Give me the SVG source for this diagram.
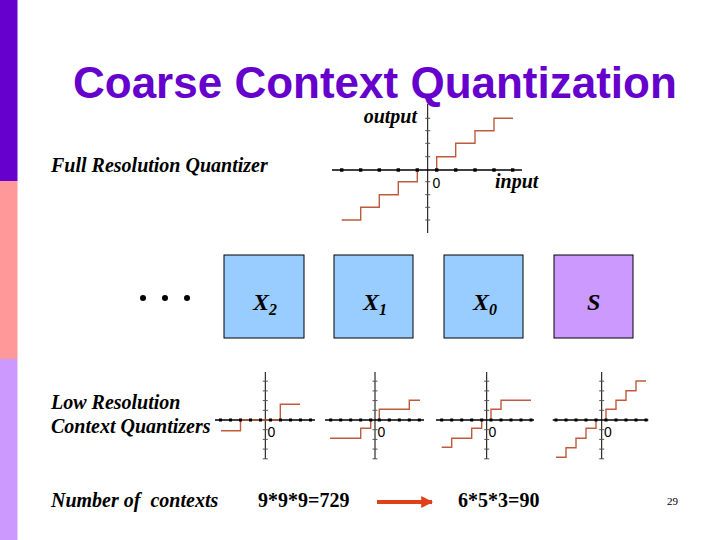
<svg xmlns="http://www.w3.org/2000/svg" width="720" height="540" viewBox="0 0 720 540">
<defs>
<style>
.title{font-family:"Liberation Sans",Arial,sans-serif;font-weight:bold;font-size:44px;fill:#6600cc}
.lbl{font-family:"Liberation Serif","Times New Roman",serif;font-weight:bold;font-style:italic;font-size:20px;fill:#000}
.num{font-family:"Liberation Serif","Times New Roman",serif;font-weight:bold;font-size:20px;fill:#000}
.var{font-family:"Liberation Serif","Times New Roman",serif;font-weight:bold;font-style:italic;font-size:24px;fill:#000}
.zero{font-family:"Liberation Sans",Arial,sans-serif;font-size:14px;fill:#000}
.vaxis{stroke:#000;stroke-width:1;fill:none}
.haxis{stroke:#000;stroke-width:1.6;fill:none}
.tick{stroke:#555;stroke-width:1;fill:none}
.stair{stroke:#bf5b3c;stroke-width:1.4;fill:none}
.dot{fill:#000}
.box{stroke:#000;stroke-width:1}
</style>
<marker id="ah" viewBox="0 0 10 10" refX="9" refY="5" markerWidth="3" markerHeight="3" orient="auto">
<path d="M0,0 L10,5 L0,10 z" fill="#e0401a"/>
</marker>
</defs>
<rect width="720" height="540" fill="#fff"/>
<g id="sidebar">
<rect x="0" y="0" width="17.5" height="181" fill="#6600cc"/>
<rect x="0" y="181" width="17.5" height="178" fill="#ff9999"/>
<rect x="0" y="359" width="17.5" height="181" fill="#cc99ff"/>
</g>
<text class="title" x="73" y="98">Coarse Context Quantization</text>

<g id="full-quantizer">
<path class="vaxis" d="M427.7,104 V233"/>
<path class="haxis" d="M332,170 H522"/>
<path class="tick" d="M425.2,118.3 h5 M425.2,130.7 h5 M425.2,143.3 h5 M425.2,156.7 h5 M425.2,181.7 h5 M425.2,194.7 h5 M425.2,207.3 h5 M425.2,220 h5"/>
<path class="stair" d="M341.7,220 H360.7 V207.3 H379.3 V194.7 H398.3 V181.7 H417.3 V170 M436.7,170 V156.7 H455.7 V143.3 H475 V130.7 H494 V118.3 H513"/>
<g class="dot">
<rect x="340" y="168.3" width="3.4" height="3.4"/><rect x="359" y="168.3" width="3.4" height="3.4"/><rect x="377.6" y="168.3" width="3.4" height="3.4"/><rect x="396.6" y="168.3" width="3.4" height="3.4"/><rect x="415.6" y="168.3" width="3.4" height="3.4"/><rect x="435" y="168.3" width="3.4" height="3.4"/><rect x="454" y="168.3" width="3.4" height="3.4"/><rect x="473.3" y="168.3" width="3.4" height="3.4"/><rect x="492.3" y="168.3" width="3.4" height="3.4"/><rect x="511" y="168.3" width="3.4" height="3.4"/>
</g>
<text class="zero" x="432.5" y="188">0</text>
<text class="lbl" x="417" y="123" text-anchor="end" font-size="17">output</text>
<text class="lbl" x="495" y="188" font-size="17">input</text>
</g>
<text class="lbl" x="51" y="172">Full Resolution Quantizer</text>

<g id="ellipsis" class="dot">
<circle cx="143" cy="298" r="3"/><circle cx="165" cy="298" r="3"/><circle cx="187" cy="298" r="3"/>
</g>

<g id="box-x2">
<rect class="box" x="224" y="255" width="80" height="83" fill="#99ccff"/>
<text class="var" x="253" y="310">X<tspan font-size="16" dy="5">2</tspan></text>
</g>
<g id="box-x1">
<rect class="box" x="334" y="255" width="79" height="83" fill="#99ccff"/>
<text class="var" x="363" y="310">X<tspan font-size="16" dy="5">1</tspan></text>
</g>
<g id="box-x0">
<rect class="box" x="444" y="255" width="79" height="83" fill="#99ccff"/>
<text class="var" x="473" y="310">X<tspan font-size="16" dy="5">0</tspan></text>
</g>
<g id="box-s">
<rect class="box" x="554" y="255" width="79" height="83" fill="#cc99ff"/>
<text class="var" x="587" y="310">S</text>
</g>

<g id="quant-x2">
<path class="vaxis" d="M265.3,372 V459"/>
<path class="haxis" d="M215,420 H315"/>
<path class="tick" d="M262.8,381.2 h5 M262.8,390.9 h5 M262.8,400.6 h5 M262.8,410.3 h5 M262.8,429.7 h5 M262.8,439.4 h5 M262.8,449.1 h5 M262.8,458.8 h5"/>
<path class="stair" d="M221,430.7 H240.5 V420 H280.3 V404.3 H300"/>
<g class="dot">
<rect x="219" y="418.5" width="3" height="3"/><rect x="229" y="418.5" width="3" height="3"/><rect x="239" y="418.5" width="3" height="3"/><rect x="249" y="418.5" width="3" height="3"/><rect x="259" y="418.5" width="3" height="3"/><rect x="269" y="418.5" width="3" height="3"/><rect x="279" y="418.5" width="3" height="3"/><rect x="289" y="418.5" width="3" height="3"/><rect x="299" y="418.5" width="3" height="3"/><rect x="309" y="418.5" width="3" height="3"/>
</g>
<text class="zero" x="267.5" y="437">0</text>
</g>

<g id="quant-x1">
<path class="vaxis" d="M375,372 V459"/>
<path class="haxis" d="M325,420 H424"/>
<path class="tick" d="M372.5,381.2 h5 M372.5,390.9 h5 M372.5,400.6 h5 M372.5,410.3 h5 M372.5,429.7 h5 M372.5,439.4 h5 M372.5,449.1 h5 M372.5,458.8 h5"/>
<path class="stair" d="M330,438.3 H360.7 V428.3 H370.7 V420 M379.3,420 V409.3 H409.3 V400.3 H420"/>
<g class="dot">
<rect x="329.2" y="418.5" width="3" height="3"/><rect x="339.2" y="418.5" width="3" height="3"/><rect x="349.2" y="418.5" width="3" height="3"/><rect x="359.2" y="418.5" width="3" height="3"/><rect x="369.2" y="418.5" width="3" height="3"/><rect x="377.8" y="418.5" width="3" height="3"/><rect x="387.8" y="418.5" width="3" height="3"/><rect x="397.8" y="418.5" width="3" height="3"/><rect x="407.8" y="418.5" width="3" height="3"/><rect x="417.8" y="418.5" width="3" height="3"/>
</g>
<text class="zero" x="377.5" y="437">0</text>
</g>

<g id="quant-x0">
<path class="vaxis" d="M486.7,372 V459"/>
<path class="haxis" d="M436,420 H534"/>
<path class="tick" d="M484.2,381.2 h5 M484.2,390.9 h5 M484.2,400.6 h5 M484.2,410.3 h5 M484.2,429.7 h5 M484.2,439.4 h5 M484.2,449.1 h5 M484.2,458.8 h5"/>
<path class="stair" d="M441.7,447.3 H451.7 V438.3 H471.7 V428.3 H481.7 V420 M491,420 V409.3 H501 V400.3 H531"/>
<g class="dot">
<rect x="440.2" y="418.5" width="3" height="3"/><rect x="450.2" y="418.5" width="3" height="3"/><rect x="460.2" y="418.5" width="3" height="3"/><rect x="470.2" y="418.5" width="3" height="3"/><rect x="480.2" y="418.5" width="3" height="3"/><rect x="489.5" y="418.5" width="3" height="3"/><rect x="499.5" y="418.5" width="3" height="3"/><rect x="509.5" y="418.5" width="3" height="3"/><rect x="519.5" y="418.5" width="3" height="3"/><rect x="529.5" y="418.5" width="3" height="3"/>
</g>
<text class="zero" x="488.5" y="437">0</text>
</g>

<g id="quant-s">
<path class="vaxis" d="M601.7,372 V459"/>
<path class="haxis" d="M552.7,420 H648.3"/>
<path class="tick" d="M599.2,381.2 h5 M599.2,390.9 h5 M599.2,400.6 h5 M599.2,410.3 h5 M599.2,429.7 h5 M599.2,439.4 h5 M599.2,449.1 h5 M599.2,458.8 h5"/>
<path class="stair" d="M556,457.3 H566 V447.7 H576 V438.3 H586 V428.3 H596 V420 M606,420 V409.3 H616 V400.3 H626 V390.7 H636 V381 H646"/>
<g class="dot">
<rect x="554.5" y="418.5" width="3" height="3"/><rect x="564.5" y="418.5" width="3" height="3"/><rect x="574.5" y="418.5" width="3" height="3"/><rect x="584.5" y="418.5" width="3" height="3"/><rect x="594.5" y="418.5" width="3" height="3"/><rect x="604.5" y="418.5" width="3" height="3"/><rect x="614.5" y="418.5" width="3" height="3"/><rect x="624.5" y="418.5" width="3" height="3"/><rect x="634.5" y="418.5" width="3" height="3"/><rect x="644.5" y="418.5" width="3" height="3"/>
</g>
<text class="zero" x="604" y="437">0</text>
</g>

<text class="lbl" x="51" y="409">Low Resolution</text>
<text class="lbl" x="51" y="433">Context Quantizers</text>
<text class="lbl" x="51" y="507" xml:space="preserve">Number of  contexts</text>
<text class="num" x="258" y="507">9*9*9=729</text>
<text class="num" x="458" y="507">6*5*3=90</text>
<text x="667" y="505" font-family="Liberation Serif,serif" font-size="11">29</text>

<g id="connectors">
<line x1="377" y1="502" x2="432" y2="502" stroke="#e0401a" stroke-width="4" marker-end="url(#ah)"/>
</g>
</svg>
